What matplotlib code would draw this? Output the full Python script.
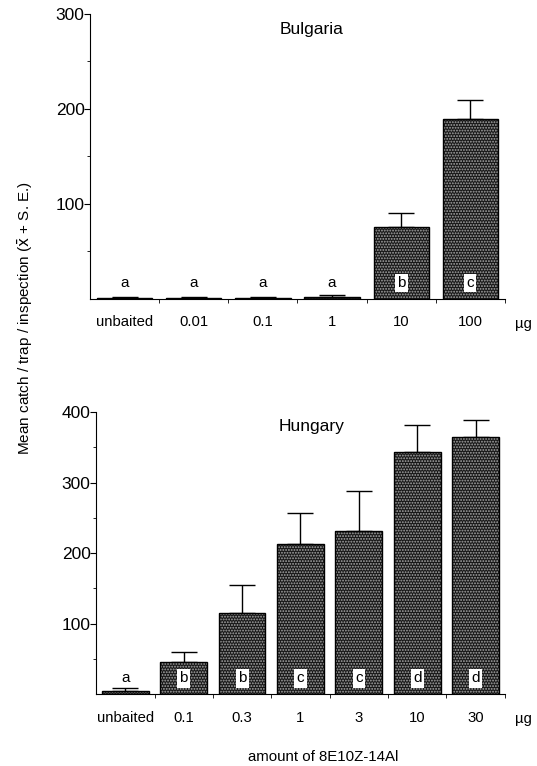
import numpy as np
import matplotlib
matplotlib.use("Agg")
import matplotlib.pyplot as plt

plt.rcParams["font.family"] = ["Liberation Sans", "DejaVu Sans"]
plt.rcParams["hatch.linewidth"] = 0.9

# Bulgaria trial
bg_doses = ["unbaited", "0.01", "0.1", "1", "10", "100"]
bg_mean = [1, 1, 1, 2, 76, 189]
bg_se = [0.5, 0.5, 0.5, 2, 14, 20]
bg_letters = ["a", "a", "a", "a", "b", "c"]

# Hungary trial
hu_doses = ["unbaited", "0.1", "0.3", "1", "3", "10", "30"]
hu_mean = [4, 45, 115, 213, 231, 344, 364]
hu_se = [4, 15, 40, 44, 57, 38, 25]
hu_letters = ["a", "b", "b", "c", "c", "d", "d"]


def panel(ax, doses, mean, se, letters, title, ymax, step, title_pos):
    x = np.arange(len(doses))
    # dotted screen fill, then a plain outline on top
    ax.bar(x, mean, width=0.8, color="#181818", edgecolor="#a8a8a8",
           hatch="......", linewidth=0, zorder=2)
    ax.bar(x, mean, width=0.8, fill=False, edgecolor="black", linewidth=1.0, zorder=3)
    ax.errorbar(x, np.array(mean), yerr=[np.zeros(len(se)), se], fmt="none",
                ecolor="black", elinewidth=1.0, capsize=9.5, capthick=1.0, zorder=1)
    for xi, m, lab in zip(x, mean, letters):
        if m < 20:
            ax.text(xi, ymax * 0.055, lab, ha="center", va="center", fontsize=11)
        else:
            ax.text(xi, ymax * 0.055, lab, ha="center", va="center", fontsize=11,
                    bbox=dict(boxstyle="square,pad=0.15", fc="white", ec="none"), zorder=4)
    ax.set_xlim(-0.5, len(doses) - 0.5)
    ax.set_ylim(0, ymax)
    ax.set_yticks(np.arange(step, ymax + 1, step))
    ax.set_yticks(np.arange(step / 2, ymax, step), minor=True)
    ax.set_xticks(x)
    ax.set_xticklabels(doses, fontsize=10.7)
    ax.set_xticks(np.arange(0.5, len(doses), 1), minor=True)
    ax.tick_params(axis="x", which="major", length=0, pad=12)
    ax.tick_params(axis="x", which="minor", length=3, direction="out")
    ax.tick_params(axis="y", which="major", length=4, labelsize=12.5, pad=0)
    ax.tick_params(axis="y", which="minor", length=2)
    for side in ["top", "right"]:
        ax.spines[side].set_visible(False)
    ax.text(title_pos[0], title_pos[1], title, transform=ax.transAxes,
            ha="center", va="center", fontsize=12.5)
    ax.text(1.045, -0.088, "µg", transform=ax.transAxes, ha="center", va="center", fontsize=10.7)


fig = plt.figure(figsize=(5.37, 7.66), dpi=100)
ax1 = fig.add_axes([0.168, 0.610, 0.772, 0.372])
ax2 = fig.add_axes([0.179, 0.094, 0.761, 0.368])

panel(ax1, bg_doses, bg_mean, bg_se, bg_letters, "Bulgaria", 300, 100, (0.533, 0.944))
panel(ax2, hu_doses, hu_mean, hu_se, hu_letters, "Hungary", 400, 100, (0.528, 0.95))

fig.text(0.047, 0.585, r"Mean catch / trap / inspection ($\bar{\mathrm{x}}$ + S. E.)",
         rotation=90, ha="center", va="center", fontsize=11)
fig.text(0.601, 0.012, "amount of 8E10Z-14Al", ha="center", va="center", fontsize=10.8)

fig.savefig("out.png", dpi=100)
